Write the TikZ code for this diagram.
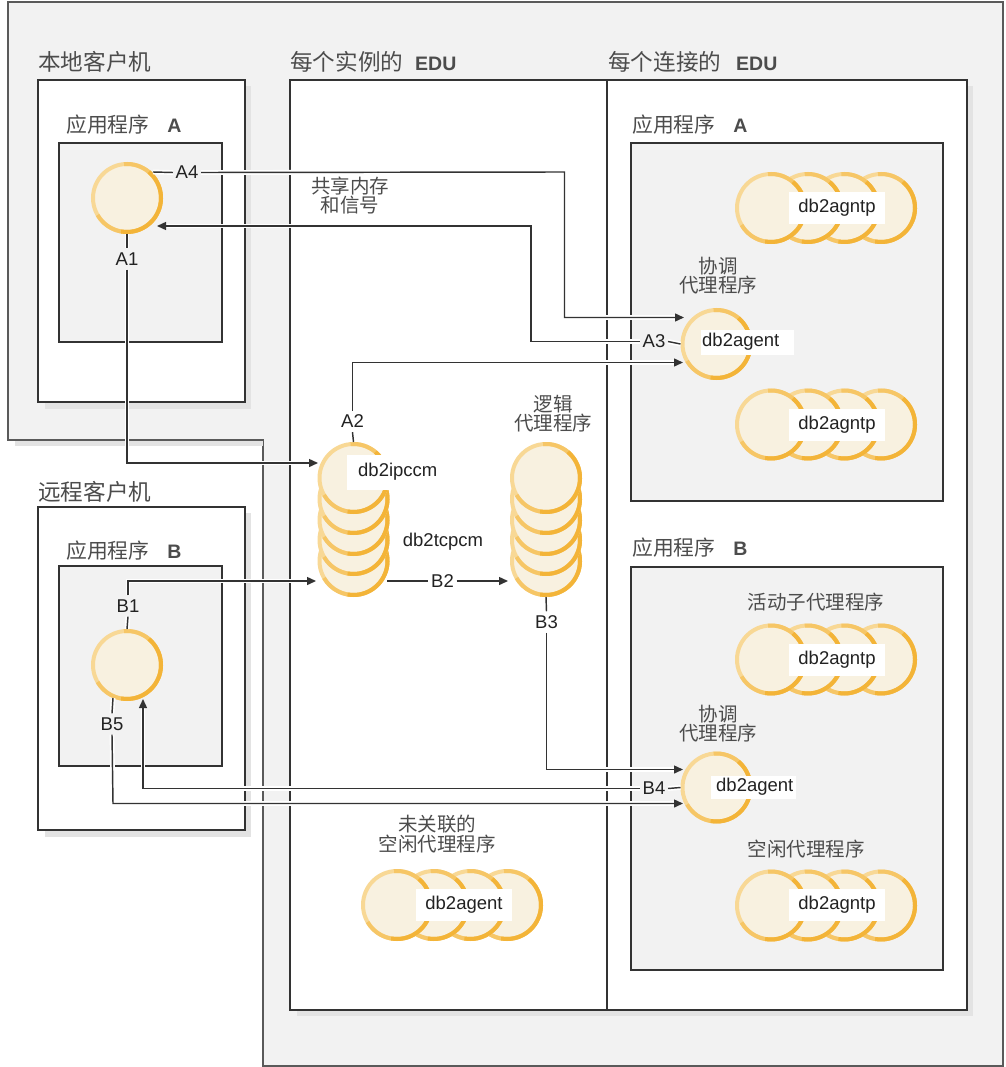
\documentclass[tikz,border=0pt]{standalone}
\usepackage{fontspec}
\setmainfont{Liberation Sans}
\newfontfamily\cjk{Noto Sans CJK SC}
\usetikzlibrary{arrows.meta}
\definecolor{panelgray}{HTML}{F2F2F2}
\definecolor{shadowgray}{HTML}{E3E3E3}
\definecolor{edge}{HTML}{333333}
\definecolor{outline}{HTML}{5A5A5A}
\definecolor{ringlight}{HTML}{F8D895}
\definecolor{ringmid}{HTML}{F6C666}
\definecolor{ringdark}{HTML}{F3B438}
\definecolor{cream}{HTML}{F8F1E0}
\definecolor{txt}{HTML}{222222}
\definecolor{cjktxt}{HTML}{4C4C4C}
\tikzset{
  panel/.style={fill=panelgray, draw=outline, line width=1.2pt},
  whitebox/.style={fill=white, draw=edge, line width=1.4pt},
  graybox/.style={fill=panelgray, draw=edge, line width=1.4pt},
  shadowfill/.style={fill=shadowgray},
  agentc/.style={circle, minimum size=68pt, inner sep=0pt, fill=cream, draw=ringlight, line width=4pt},
  midarc/.style={draw=ringmid, line width=4pt},
  darkarc/.style={draw=ringdark, line width=4pt},
  conn/.style={draw=edge, line width=1.45pt, preaction={draw=white, line width=4.8pt}},
  arr/.style={conn, -{Triangle[length=9pt, width=8pt]}},
  lab/.style={font=\fontsize{18.5}{20}\selectfont, text=txt, inner xsep=2.5pt, inner ysep=4pt},
  namebox/.style={fill=white, font=\fontsize{18.5}{20}\selectfont, text=txt, inner sep=0pt},
  hdr/.style={anchor=west, font=\cjk\fontsize{22.6}{24}\selectfont, text=cjktxt, inner sep=0pt},
  applab/.style={anchor=west, font=\cjk\fontsize{20.8}{22}\selectfont, text=cjktxt, inner sep=0pt},
  note/.style={align=center, font=\cjk\fontsize{19.5}{17}\selectfont, text=cjktxt, inner sep=0pt},
}
\newcommand\agentnode[3]{%
  \node[agentc] (#1) at (#2,#3) {};
  \draw[midarc] (#2,#3) ++(-95:34) arc[start angle=-95, end angle=150, radius=34];
  \draw[darkarc] (#2,#3) ++(-50:34) arc[start angle=-50, end angle=100, radius=34];
}
\newcommand\bfl[1]{{\normalfont\bfseries\fontsize{19.5}{20}\selectfont #1}}
\begin{document}
\begin{tikzpicture}[x=1pt,y=-1pt]
\useasboundingbox (0,0) rectangle (1005,1067);
% background panel
\draw[panel] (8,2) -- (1003,2) -- (1003,1066) -- (263,1066) -- (263,440) -- (8,440) -- cycle;
\fill[shadowfill] (15,441) rectangle (263,446);
% client boxes
\fill[shadowfill] (45,86) rectangle (251,409);
\draw[whitebox] (38,80) rectangle (245,402);
\fill[shadowfill] (45,513) rectangle (251,837);
\draw[whitebox] (38,507) rectangle (245,830);
% EDU boxes
\fill[shadowfill] (297,86) rectangle (973,1016);
\draw[whitebox] (290,80) rectangle (607,1010);
\draw[whitebox] (607,80) rectangle (967,1010);
% application boxes
\draw[graybox] (59,143) rectangle (222,342);
\draw[graybox] (59,566) rectangle (222,766);
\draw[graybox] (631,143) rectangle (943,501);
\draw[graybox] (631,567) rectangle (943,970);
% headers
\node[hdr] (hlocal) at (38,62) {本地客户机};
\node[hdr] (hremote) at (38,492) {远程客户机};
\node[hdr] (hinst) at (290,62) {每个实例的\hspace{12pt}\bfl{EDU}};
\node[hdr] (hconn) at (608,62) {每个连接的\hspace{15pt}\bfl{EDU}};
\node[applab] (happA) at (66,125) {应用程序\hspace{18pt}\bfl{A}};
\node[applab] (happB) at (66,551) {应用程序\hspace{18pt}\bfl{B}};
\node[applab] (happA2) at (632,125) {应用程序\hspace{18pt}\bfl{A}};
\node[applab] (happB2) at (632,548) {应用程序\hspace{18pt}\bfl{B}};
% notes
\node[note] (nshm) at (350,196) {共享内存\\和信号};
\node[note] (ncoA) at (718,276) {协调\\代理程序};
\node[note] (nlog) at (553,414) {逻辑\\代理程序};
\node[note] (nact) at (816,602) {活动子代理程序};
\node[note, font=\cjk\fontsize{19.5}{15}\selectfont] (ncoB) at (718,724) {协调\\代理程序};
\node[note] (nidle) at (806,849) {空闲代理程序};
\node[note] (nun) at (437,834) {未关联的\\空闲代理程序};
% client circles
\agentnode{ca}{127}{198}
\agentnode{cb}{127}{665}
% db2ipccm stack (bottom first)
\agentnode{ipc5}{353.5}{561}
\agentnode{ipc4}{353.5}{540}
\agentnode{ipc3}{353.5}{520}
\agentnode{ipc2}{353.5}{499}
\agentnode{ipc1}{353.5}{478}
% logical agents stack
\agentnode{lg5}{546}{561}
\agentnode{lg4}{546}{540}
\agentnode{lg3}{546}{520}
\agentnode{lg2}{546}{499}
\agentnode{lg1}{546}{478}
% coordinating agents
\agentnode{coA}{716.5}{344}
\agentnode{coB}{716.5}{787.5}
% horizontal groups (right first)
\agentnode{pa4}{881}{208}
\agentnode{pa3}{844.3}{208}
\agentnode{pa2}{807.7}{208}
\agentnode{pa1}{771}{208}
\agentnode{pb4}{881}{424.5}
\agentnode{pb3}{844.3}{424.5}
\agentnode{pb2}{807.7}{424.5}
\agentnode{pb1}{771}{424.5}
\agentnode{pc4}{881}{659.5}
\agentnode{pc3}{844.3}{659.5}
\agentnode{pc2}{807.7}{659.5}
\agentnode{pc1}{771}{659.5}
\agentnode{pd4}{881}{905.5}
\agentnode{pd3}{844.3}{905.5}
\agentnode{pd2}{807.7}{905.5}
\agentnode{pd1}{771}{905.5}
\agentnode{pu4}{507}{905}
\agentnode{pu3}{470.3}{905}
\agentnode{pu2}{433.7}{905}
\agentnode{pu1}{397}{905}
% name boxes
\node[namebox, minimum width=96pt, minimum height=32pt] (tpa) at (837,208) {db2agntp};
\node[namebox, minimum width=96pt, minimum height=32pt] (tpb) at (837,424.5) {db2agntp};
\node[namebox, minimum width=96pt, minimum height=32pt] (tpc) at (837,659.5) {db2agntp};
\node[namebox, minimum width=96pt, minimum height=32pt] (tpd) at (837,905) {db2agntp};
\node[namebox, minimum width=96pt, minimum height=32pt] (tpu) at (464,905) {db2agent};
\node[namebox, anchor=west, minimum height=25pt] (tcoA) at (701,342) {\hspace*{1pt}db2agent\hspace*{15pt}};
\node[namebox, anchor=west, minimum height=23pt] (tcoB) at (711,787) {\hspace*{5pt}db2agent\hspace*{3pt}};
\node[namebox, anchor=west, minimum height=35pt] (tipc) at (347,472) {\hspace*{11pt}db2ipccm\hspace*{4pt}};
\node[namebox, fill=none] (ttcp) at (443,542) {db2tcpcm};
% connector labels
\node[lab] (A4) at (187,172.5) {A4};
\node[lab] (A3) at (654,341.5) {A3};
\node[lab] (A2) at (352.5,421.5) {A2};
\node[lab] (A1) at (127,259) {A1};
\node[lab] (B1) at (128,606) {B1};
\node[lab] (B2) at (442.5,581) {B2};
\node[lab] (B3) at (546.5,622) {B3};
\node[lab] (B4) at (654,788.5) {B4};
\node[lab] (B5) at (112,724) {B5};
% connector end points
\coordinate (caA4) at (153,172);
\coordinate (caIn) at (157,226);
\coordinate (coAin1) at (684,317.5);
\coordinate (coAin2) at (683,362.5);
\coordinate (ipcA1) at (318,463);
\coordinate (ipcB1) at (316,581);
\coordinate (ipcOut) at (387,581);
\coordinate (lgIn) at (508,581);
\coordinate (coBin1) at (683,769.5);
\coordinate (coBin2) at (683,803.5);
\coordinate (cbIn) at (143,699);
\coordinate (cbB5) at (113,698);
% connectors
\draw[conn] (caA4) -- (A4.west);
\draw[arr] (A4.east) -- (564.5,172) -- (564.5,317.5) -- (coAin1);
\draw[conn] (coA.west) -- (A3.east);
\draw[arr] (A3.west) -- (531,341.5) -- (531,226) -- (caIn);
\draw[conn] (ipc1.north) -- (A2.south);
\draw[arr] (A2.north) -- (352.5,362.5) -- (coAin2);
\draw[conn] (ca.south) -- (A1.north);
\draw[arr] (A1.south) -- (127,463) -- (ipcA1);
\draw[conn] (cb.north) -- (B1.south);
\draw[arr] (B1.north) -- (128,581) -- (ipcB1);
\draw[conn] (ipcOut) -- (B2.west);
\draw[arr] (B2.east) -- (lgIn);
\draw[conn] (lg5.south) -- (B3.north);
\draw[arr] (B3.south) -- (546.5,769.5) -- (coBin1);
\draw[conn] (coB.west) -- (B4.east);
\draw[arr] (B4.west) -- (143,788.5) -- (cbIn);
\draw[conn] (cbB5) -- (B5.north);
\draw[arr] (B5.south) -- (113,803.5) -- (coBin2);
\end{tikzpicture}
\end{document}
